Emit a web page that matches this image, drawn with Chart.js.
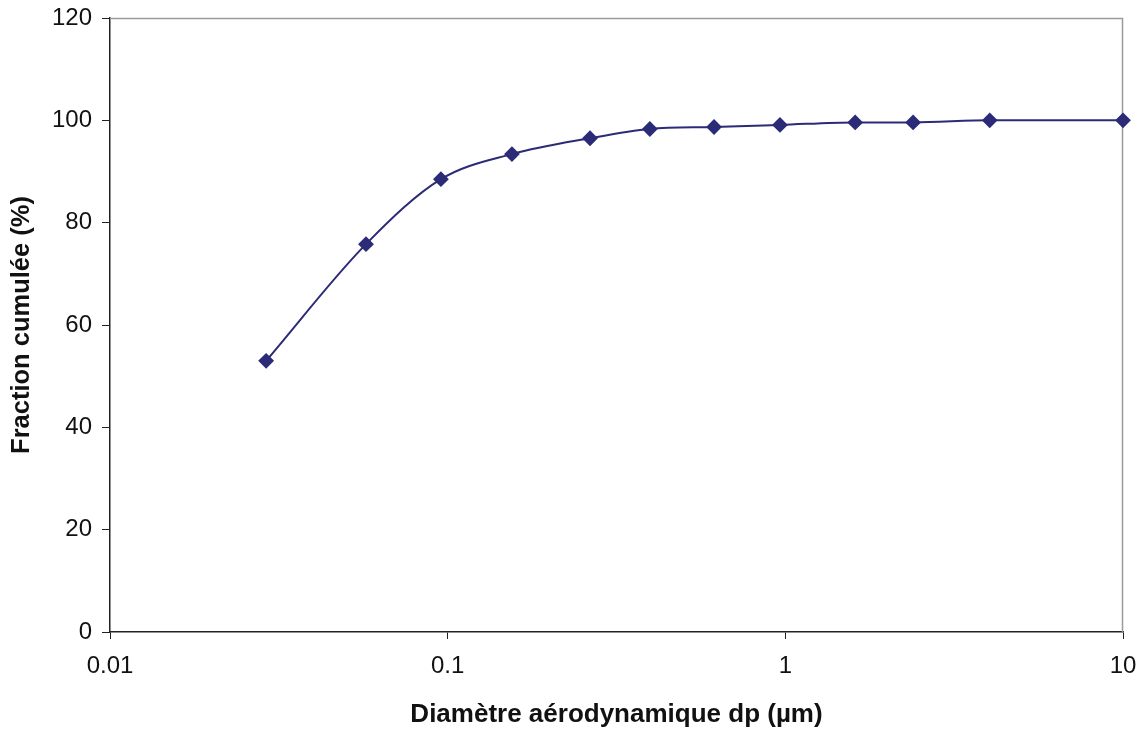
<!DOCTYPE html>
<html>
<head>
<meta charset="utf-8">
<script src="https://cdn.jsdelivr.net/npm/chart.js@4/dist/chart.umd.min.js"></script>
<style>
html,body{margin:0;padding:0;background:#fff;}
#wrap{width:1145px;height:730px;position:relative;}
</style>
</head>
<body>
<div id="wrap"><canvas id="c" width="1145" height="730"></canvas></div>
<script>
const diameters = [0.029, 0.0573, 0.0955, 0.155, 0.264, 0.397, 0.615, 0.964, 1.61, 2.39, 4.03, 10];
const cumulative = [53, 75.8, 88.5, 93.4, 96.5, 98.3, 98.7, 99.1, 99.6, 99.6, 100, 100];
const xTicks = [0.01, 0.1, 1, 10];
const xTickLabels = ['0.01', '0.1', '1', '10'];
const yTicks = [0, 20, 40, 60, 80, 100, 120];

const points = diameters.map((d, i) => ({x: d, y: cumulative[i]}));
const FONT = '"Liberation Sans", Arial, sans-serif';

const frame = {
  id: 'frame',
  beforeDatasetsDraw(chart) {
    const a = chart.chartArea, ctx = chart.ctx;
    ctx.save();
    ctx.strokeStyle = '#9a9a9a';
    ctx.lineWidth = 1.5;
    ctx.beginPath();
    ctx.moveTo(a.left, a.top + 0.5);
    ctx.lineTo(a.right - 0.5, a.top + 0.5);
    ctx.lineTo(a.right - 0.5, a.bottom);
    ctx.stroke();
    ctx.restore();
  }
};

new Chart(document.getElementById('c'), {
  type: 'line',
  data: {
    datasets: [{
      data: points,
      borderColor: '#2B2B78',
      backgroundColor: '#2B2B78',
      borderWidth: 2,
      pointStyle: 'rectRot',
      pointRadius: 6.5,
      pointHoverRadius: 6.5,
      cubicInterpolationMode: 'monotone',
      clip: false,
      fill: false
    }]
  },
  options: {
    responsive: false,
    animation: false,
    layout: {padding: {top: 18, right: 22, left: 0, bottom: 0}},
    plugins: {legend: {display: false}, tooltip: {enabled: false}},
    scales: {
      x: {
        type: 'logarithmic',
        min: 0.01, max: 10,
        afterBuildTicks(s) { s.ticks = xTicks.map(v => ({value: v})); },
        afterFit(s) { s.height = 98; s.paddingLeft = 0; s.paddingRight = 0; },
        ticks: {
          autoSkip: false, maxRotation: 0, padding: 13,
          color: '#111', font: {family: FONT, size: 24},
          callback(v) { const i = xTicks.indexOf(v); return i >= 0 ? xTickLabels[i] : ''; }
        },
        grid: {display: true, drawOnChartArea: false, drawTicks: true, tickLength: 7, color: '#222', lineWidth: 1},
        border: {display: true, color: '#222', width: 1.5},
        title: {display: true, text: 'Diamètre aérodynamique dp (µm)', color: '#111',
          font: {family: FONT, size: 26, weight: 'bold'}, padding: {top: 0, bottom: 0}}
      },
      y: {
        min: 0, max: 120,
        afterBuildTicks(s) { s.ticks = yTicks.map(v => ({value: v})); },
        afterFit(s) { s.width = 110; s.paddingTop = 0; s.paddingBottom = 0; },
        ticks: {color: '#111', font: {family: FONT, size: 24}, padding: 10},
        grid: {display: true, drawOnChartArea: false, drawTicks: true, tickLength: 8, color: '#222', lineWidth: 1},
        border: {display: true, color: '#222', width: 1.5},
        title: {display: true, text: 'Fraction cumulée (%)', color: '#111',
          font: {family: FONT, size: 25.5, weight: 'bold'}, padding: {top: 7, bottom: 0}}
      }
    }
  },
  plugins: [frame]
});
</script>
</body>
</html>
